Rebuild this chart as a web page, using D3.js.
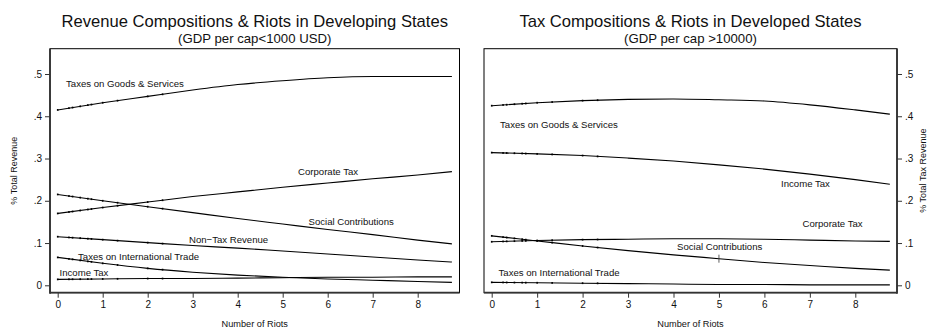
<!DOCTYPE html>
<html lang="en">
<head>
<meta charset="UTF-8">
<title>Revenue Compositions & Riots</title>
<script src="https://cdnjs.cloudflare.com/ajax/libs/d3/7.8.5/d3.min.js"></script>
<style>
  body { margin: 0; background: #fff; }
  svg { display: block; font-family: "Liberation Sans", Arial, sans-serif; }
</style>
</head>
<body>
<svg id="chart" width="928" height="331"></svg>
<script>
// number of riots where the fitted values were read
const riots = [0, 1, 2, 3, 4, 5, 6, 7, 8, 8.76];
// x positions of the small observation markers on every line
const obsX = [0, 0.25, 0.33, 0.5, 0.67, 0.75, 1, 1.33, 2, 2.33];
const xTicks = [0, 1, 2, 3, 4, 5, 6, 7, 8];
const yTicks = [0, 0.1, 0.2, 0.3, 0.4, 0.5];
const yTickLabels = ["0", ".1", ".2", ".3", ".4", ".5"];

// developing states (GDP per cap < 1000 USD)
const devGoods     = [0.415, 0.432, 0.447, 0.462, 0.475, 0.484, 0.491, 0.494, 0.494, 0.494];
const devCorporate = [0.170, 0.184, 0.197, 0.210, 0.221, 0.232, 0.242, 0.252, 0.261, 0.269];
const devSocial    = [0.215, 0.200, 0.186, 0.172, 0.158, 0.145, 0.132, 0.120, 0.107, 0.098];
const devNonTax    = [0.115, 0.108, 0.101, 0.094, 0.088, 0.081, 0.074, 0.067, 0.060, 0.055];
const devTrade     = [0.066, 0.052, 0.040, 0.031, 0.024, 0.019, 0.015, 0.012, 0.009, 0.007];
const devIncome    = [0.014, 0.015, 0.016, 0.016, 0.017, 0.018, 0.019, 0.019, 0.020, 0.020];

// developed states (GDP per cap > 10000)
const dvdGoods     = [0.425, 0.432, 0.437, 0.440, 0.441, 0.439, 0.436, 0.427, 0.415, 0.405];
const dvdIncome    = [0.314, 0.311, 0.307, 0.301, 0.294, 0.285, 0.275, 0.263, 0.250, 0.239];
const dvdCorporate = [0.103, 0.106, 0.108, 0.109, 0.110, 0.110, 0.109, 0.107, 0.105, 0.104];
const dvdSocial    = [0.117, 0.105, 0.093, 0.082, 0.072, 0.063, 0.054, 0.047, 0.040, 0.036];
const dvdTrade     = [0.007, 0.006, 0.005, 0.004, 0.003, 0.002, 0.002, 0.001, 0.001, 0.001];

const panels = [
  {
    title: "Revenue Compositions & Riots in Developing States",
    subtitle: "(GDP per cap<1000 USD)",
    yTitle: "% Total Revenue",
    side: "left",
    frame: [50, 459.5], x0: 57.7, unit: 45,
    series: [
      { name: "Taxes on Goods & Services", values: devGoods, lx: 66, ly: 0.470 },
      { name: "Corporate Tax", values: devCorporate, lx: 298, ly: 0.261 },
      { name: "Social Contributions", values: devSocial, lx: 308.5, ly: 0.143 },
      { name: "Non\u2212Tax Revenue", values: devNonTax, lx: 189, ly: 0.101 },
      { name: "Taxes on International Trade", values: devTrade, lx: 78, ly: 0.061 },
      { name: "Income Tax", values: devIncome, lx: 59.5, ly: 0.022 }
    ]
  },
  {
    title: "Tax Compositions & Riots in Developed States",
    subtitle: "(GDP per cap >10000)",
    yTitle: "% Total Tax Revenue",
    side: "right",
    frame: [484, 897], x0: 491.7, unit: 45.45,
    series: [
      { name: "Taxes on Goods & Services", values: dvdGoods, lx: 500, ly: 0.372 },
      { name: "Income Tax", values: dvdIncome, lx: 781, ly: 0.232 },
      { name: "Corporate Tax", values: dvdCorporate, lx: 802.5, ly: 0.137 },
      { name: "Social Contributions", values: dvdSocial, lx: 677, ly: 0.084 },
      { name: "Taxes on International Trade", values: dvdTrade, lx: 498.5, ly: 0.022 }
    ],
    tickAt: { series: 3, x: 5 }
  }
];

const svg = d3.select("#chart");
const plotTop = 48.7, plotBottom = 292.7;
const y = d3.scaleLinear().domain([0, 0.5]).range([285.3, 74]);

panels.forEach(p => {
  const x = d3.scaleLinear().domain([0, 8]).range([p.x0, p.x0 + 8 * p.unit]);
  const [fl, fr] = p.frame;
  const cx = (fl + fr) / 2;
  const g = svg.append("g");

  // titles
  g.append("text").attr("x", cx).attr("y", 26.7).attr("text-anchor", "middle")
    .attr("font-size", 16.6).attr("fill", "#111").text(p.title);
  g.append("text").attr("x", cx).attr("y", 43).attr("text-anchor", "middle")
    .attr("font-size", 13.2).attr("fill", "#111").text(p.subtitle);

  // plot frame: thin top/right, heavier axis lines
  g.append("rect").attr("x", fl).attr("y", plotTop).attr("width", fr - fl).attr("height", plotBottom - plotTop)
    .attr("fill", "none").attr("stroke", "#000").attr("stroke-width", 1);

  // x axis
  const xAxis = d3.axisBottom(x).tickValues(xTicks).tickSize(5).tickPadding(3).tickSizeOuter(0);
  const gx = g.append("g").attr("transform", `translate(0,${plotBottom})`).call(xAxis);
  gx.select(".domain").remove();
  gx.append("line").attr("x1", fl).attr("x2", fr).attr("stroke", "#333").attr("stroke-width", 1.8);
  gx.selectAll("text").attr("font-size", 10).attr("fill", "#111").attr("font-family", null);
  gx.selectAll(".tick line").attr("stroke", "#333");

  // y axis
  const yAxis = (p.side === "left" ? d3.axisLeft(y) : d3.axisRight(y))
    .tickValues(yTicks).tickFormat((d, i) => yTickLabels[i]).tickSize(5).tickPadding(3);
  const axX = p.side === "left" ? fl : fr;
  const gy = g.append("g").attr("transform", `translate(${axX},0)`).call(yAxis);
  gy.select(".domain").remove();
  gy.append("line").attr("y1", plotTop).attr("y2", plotBottom + 1).attr("stroke", "#333").attr("stroke-width", 1.8);
  gy.selectAll("text").attr("font-size", 10).attr("fill", "#111").attr("font-family", null);
  gy.selectAll(".tick line").attr("stroke", "#333");

  // axis titles
  g.append("text").attr("x", cx).attr("y", 327).attr("text-anchor", "middle")
    .attr("font-size", 9.2).attr("fill", "#111").text("Number of Riots");
  const ytx = p.side === "left" ? 16.5 : 925.5;
  g.append("text").attr("transform", `translate(${ytx},${(plotTop + plotBottom) / 2}) rotate(-90)`)
    .attr("text-anchor", "middle").attr("font-size", 9).attr("fill", "#111").text(p.yTitle);

  const line = d3.line().x(d => x(d[0])).y(d => y(d[1])).curve(d3.curveMonotoneX);

  p.series.forEach(s => {
    const pts = riots.map((r, i) => [r, s.values[i]]);
    g.append("path").datum(pts).attr("d", line)
      .attr("fill", "none").attr("stroke", "#000").attr("stroke-width", 1.1);

    // small observation markers along the line
    const at = v => {
      const i = Math.min(d3.bisectRight(riots, v), riots.length - 1);
      const j = Math.max(i - 1, 0);
      const t = i === j ? 0 : (v - riots[j]) / (riots[i] - riots[j]);
      return s.values[j] + t * (s.values[i] - s.values[j]);
    };
    g.selectAll(null).data(obsX).join("rect")
      .attr("x", d => x(d) - 0.8).attr("y", d => y(at(d)) - 0.9)
      .attr("width", 1.6).attr("height", 1.8).attr("fill", "#000");

    g.append("text").attr("x", s.lx).attr("y", y(s.ly)).attr("font-size", 9.6)
      .attr("fill", "#111").text(s.name);
  });

  if (p.tickAt) {
    const s = p.series[p.tickAt.series];
    const v = s.values[riots.indexOf(p.tickAt.x)];
    g.append("line").attr("x1", x(p.tickAt.x)).attr("x2", x(p.tickAt.x))
      .attr("y1", y(v) - 4).attr("y2", y(v) + 4).attr("stroke", "#333").attr("stroke-width", 0.8);
  }
});
</script>
</body>
</html>
